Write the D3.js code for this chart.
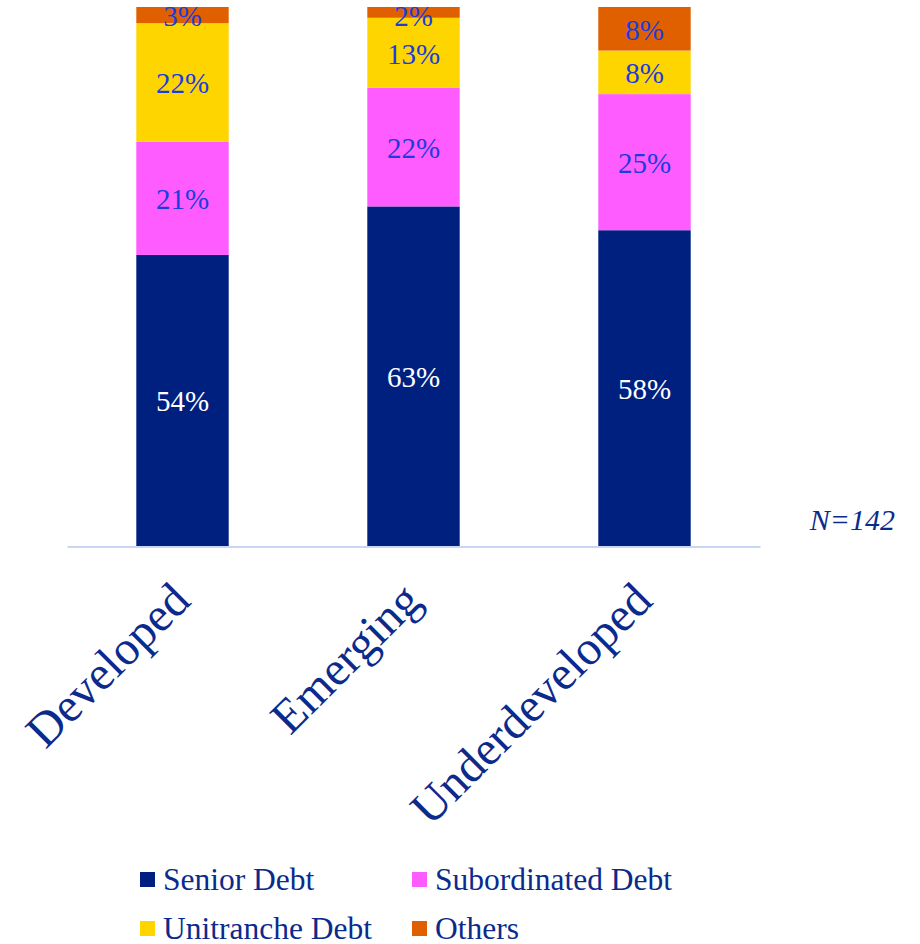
<!DOCTYPE html>
<html><head><meta charset="utf-8">
<script src="https://cdn.jsdelivr.net/npm/d3@7"></script>
<style>body{margin:0;background:#fff}svg{display:block}</style>
</head><body>
<svg id="c" width="920" height="944"></svg>
<script>
const categories = ["Developed", "Emerging", "Underdeveloped"];
const seriesNames = ["Senior Debt", "Subordinated Debt", "Unitranche Debt", "Others"];
const seniorDebt = [54, 63, 58];
const subordinatedDebt = [21, 22, 25];
const unitrancheDebt = [22, 13, 8];
const others = [3, 2, 8];
const colors = ["#002080", "#ff5cff", "#ffd500", "#e06000"];
const labelColors = ["#ffffff", "#1a3ce0", "#1a3ce0", "#1a3ce0"];
const note = "N=142";

const seriesVals = [seniorDebt, subordinatedDebt, unitrancheDebt, others];
const rows = categories.map((c, i) => {
  const o = {cat: c};
  seriesNames.forEach((s, k) => o[s] = seriesVals[k][i]);
  return o;
});
const stacked = d3.stack().keys(seriesNames).offset(d3.stackOffsetExpand)(rows);

const svg = d3.select("#c");
const x = d3.scaleBand().domain(categories).range([67, 760]).paddingInner(0.6).paddingOuter(0.3);
const y = d3.scaleLinear().domain([0, 1]).range([546, 7]);
const font = "'Liberation Serif', 'Times New Roman', serif";
const navy = "#0b2b8c";

stacked.forEach((layer, k) => {
  const g = svg.append("g");
  g.selectAll("rect").data(layer).enter().append("rect")
    .attr("x", d => x(d.data.cat))
    .attr("width", x.bandwidth())
    .attr("y", d => y(d[1]))
    .attr("height", d => y(d[0]) - y(d[1]))
    .attr("fill", colors[k]);
  g.selectAll("text").data(layer).enter().append("text")
    .attr("x", d => x(d.data.cat) + x.bandwidth() / 2)
    .attr("y", d => Math.max((y(d[0]) + y(d[1])) / 2, 15))
    .attr("dy", "0.38em")
    .attr("text-anchor", "middle")
    .attr("font-family", font)
    .attr("font-size", 29)
    .attr("fill", labelColors[k])
    .text(d => d.data[seriesNames[k]] + "%");
});

// axis
const axis = d3.axisBottom(x).tickSize(0).tickFormat("");
const ag = svg.append("g").attr("transform", "translate(0,546.5)").call(axis);
ag.select(".domain").attr("stroke", "#c9d6f5").attr("stroke-width", 2);

// category labels
svg.append("g").selectAll("text").data(categories).enter().append("text")
  .attr("transform", d => `translate(${x(d) + x.bandwidth() / 2 + 10},603) rotate(-45)`)
  .attr("text-anchor", "end")
  .attr("font-family", font)
  .attr("font-size", 48)
  .attr("fill", navy)
  .text(d => d);

// note
svg.append("text").attr("x", 895).attr("y", 530).attr("text-anchor", "end")
  .attr("font-family", font).attr("font-style", "italic").attr("font-size", 30)
  .attr("fill", navy).text(note);

// legend
const legPos = [[140, 872], [412, 872], [140, 921], [412, 921]];
const lg = svg.append("g");
seriesNames.forEach((s, k) => {
  lg.append("rect").attr("x", legPos[k][0]).attr("y", legPos[k][1]).attr("width", 15).attr("height", 15).attr("fill", colors[k]);
  lg.append("text").attr("x", legPos[k][0] + 23).attr("y", legPos[k][1] + 18)
    .attr("font-family", font).attr("font-size", 31.5).attr("fill", navy).text(s);
});
</script>
</body></html>
